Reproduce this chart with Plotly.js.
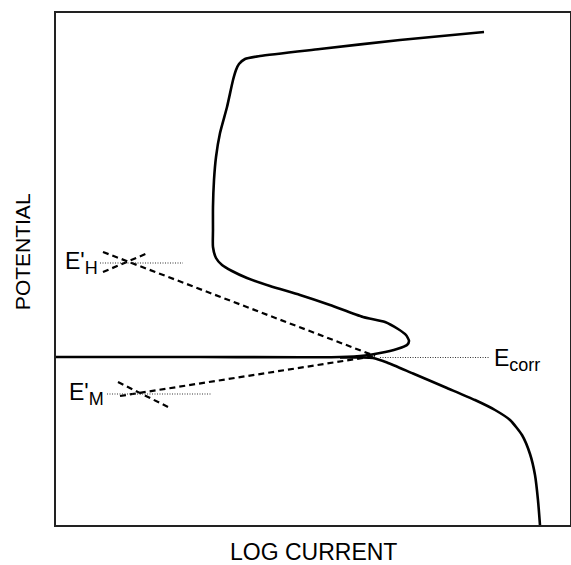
<!DOCTYPE html>
<html>
<head>
<meta charset="utf-8">
<script src="https://cdn.plot.ly/plotly-3.0.1.min.js"></script>
<style>html,body{margin:0;padding:0;background:#fff;}#chart{width:571px;height:565px;}</style>
</head>
<body>
<div id="chart"></div>
<script>
// Polarization curve, arbitrary units (0-100)
// Anodic branch: along Ecorr line, around the nose, up the passive region
var anodicLogI = [0, 28.02, 55.25, 60.12, 63.04, 66.34, 68.29, 68.68, 68.09, 66.54, 64.01, 59.73, 53.31, 47.47, 41.63, 37.16, 34.24, 32.30, 31.13, 30.54, 30.54, 30.54, 30.74, 31.13, 31.91, 33.27, 34.44, 35.02, 35.60, 36.77, 39.69, 51.36, 66.93, 83.27];
var anodicE    = [32.81, 32.81, 32.81, 33.11, 33.59, 34.38, 35.16, 35.94, 37.11, 38.28, 39.65, 40.63, 42.97, 44.92, 46.68, 48.24, 49.61, 50.78, 52.15, 54.30, 57.62, 62.11, 67.38, 71.88, 76.56, 81.64, 86.91, 88.87, 90.04, 91.02, 91.60, 92.97, 94.73, 96.29];
// Cathodic branch
var cathodicLogI = [55.25, 59.14, 61.67, 64.40, 69.46, 76.07, 81.52, 85.41, 88.33, 90.66, 92.22, 93.19, 93.77, 94.16];
var cathodicE    = [32.71, 32.71, 32.62, 31.74, 29.59, 26.76, 24.41, 22.46, 20.51, 17.58, 13.87, 9.77, 4.88, 0];
// Tafel extrapolations (dashed)
var tafelH_LogI  = [9.14, 62.06];
var tafelH_E     = [53.32, 33.01];
var crossH_LogI  = [9.14, 17.90];
var crossH_E     = [49.41, 53.13];
var tafelM_LogI  = [12.45, 62.06];
var tafelM_E     = [25.20, 33.01];
var crossM_LogI  = [12.06, 21.79];
var crossM_E     = [27.93, 23.05];
// Reference potential markers (dotted)
var refH_LogI = [8.56, 24.71];   var refH_E = [51.17, 51.17];
var refM_LogI = [9.92, 30.35];   var refM_E = [25.59, 25.59];
var refC_LogI = [63.04, 84.24];  var refC_E = [32.71, 32.71];
// Labels
var labelMain = ["E'", "E'", "E"];
var labelSub  = ["H", "M", "corr"];
var labelLogI = [1.36, 2.14, 84.82];
var labelE    = [51.17, 25.59, 32.23];
var xTitle = "LOG CURRENT";
var yTitle = "POTENTIAL";

var FONT = 'Liberation Sans, Arial, sans-serif';
var solid = {color: '#000', width: 2.6, shape: 'spline', smoothing: 0.6};
var dashed = {color: '#000', width: 2.2, dash: '6px,4px'};
var dotted = {color: '#333', width: 1.2, dash: '1px,1.5px'};

var traces = [
  {x: anodicLogI, y: anodicE, mode: 'lines', line: solid},
  {x: cathodicLogI, y: cathodicE, mode: 'lines', line: solid},
  {x: tafelH_LogI, y: tafelH_E, mode: 'lines', line: dashed},
  {x: crossH_LogI, y: crossH_E, mode: 'lines', line: dashed},
  {x: tafelM_LogI, y: tafelM_E, mode: 'lines', line: dashed},
  {x: crossM_LogI, y: crossM_E, mode: 'lines', line: dashed},
  {x: refH_LogI, y: refH_E, mode: 'lines', line: dotted},
  {x: refM_LogI, y: refM_E, mode: 'lines', line: dotted},
  {x: refC_LogI, y: refC_E, mode: 'lines', line: dotted}
];

var annotations = labelMain.map(function(t, i){
  return {text: t + "<sub><span style='font-size:18px'>" + labelSub[i] + "</span></sub>",
    x: labelLogI[i], y: labelE[i], xref: 'x', yref: 'y', xanchor: 'left', yanchor: 'middle',
    showarrow: false, font: {family: FONT, size: 23, color: '#000'}};
});
annotations.push({text: xTitle, xref: 'paper', yref: 'paper', x: 0.5, y: -0.0535, xanchor: 'center', yanchor: 'middle', showarrow: false, font: {family: FONT, size: 23, color: '#000'}});
annotations.push({text: yTitle, xref: 'paper', yref: 'paper', x: -0.0661, y: 0.533, xanchor: 'center', yanchor: 'middle', textangle: -90, showarrow: false, font: {family: FONT, size: 21, color: '#000'}});

var axisStyle = {range: [0, 100], showticklabels: false, ticks: '', showgrid: false, zeroline: false, showline: true, mirror: true, linecolor: '#222', linewidth: 2, fixedrange: true};

var layout = {
  width: 571, height: 565,
  margin: {l: 56, r: 1, t: 13, b: 40},
  paper_bgcolor: '#fff', plot_bgcolor: '#fff',
  showlegend: false,
  xaxis: Object.assign({}, axisStyle),
  yaxis: Object.assign({}, axisStyle),
  annotations: annotations
};

Plotly.newPlot('chart', traces, layout, {staticPlot: true, displayModeBar: false});
</script>
</body>
</html>
